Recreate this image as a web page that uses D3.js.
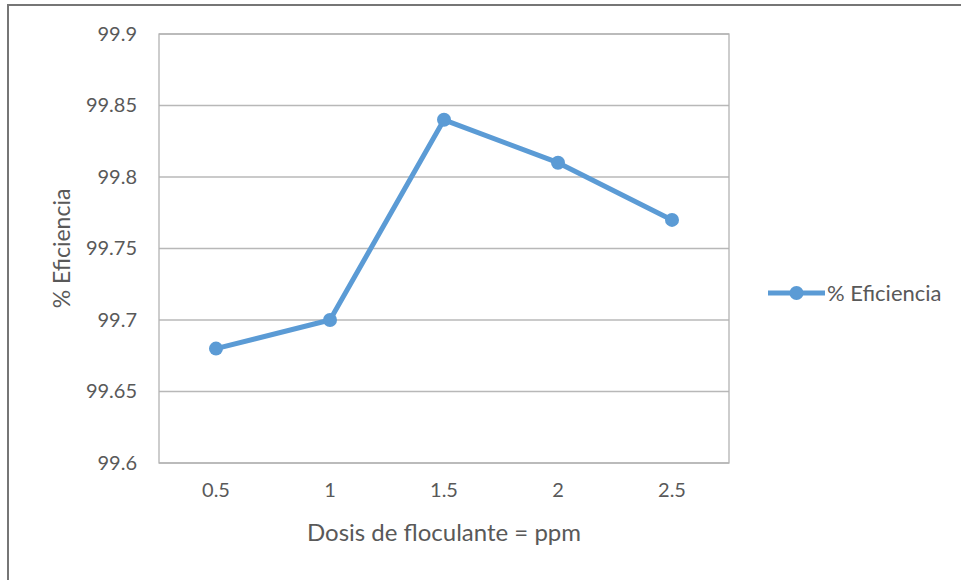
<!DOCTYPE html>
<html>
  <head>
    <meta charset="utf-8" />
    <title>% Eficiencia</title>
    <style>
      body {
        margin: 0;
        background: #fff;
        font-family: 'Lato', sans-serif;
      }
      text {
        fill: #595959;
      }
    </style>
    <script src="https://d3js.org/d3.v7.min.js"></script>
  </head>
  <body>
    <div id="chart"></div>
    <script>
      const doses = ["0.5", "1", "1.5", "2", "2.5"];
      const efficiency = [99.68, 99.7, 99.84, 99.81, 99.77];
      const yTicks = [99.6, 99.65, 99.7, 99.75, 99.8, 99.85, 99.9];
      const seriesName = "% Eficiencia";

      const W = 961, H = 580;
      const margin = { top: 34, right: 232, bottom: 117, left: 159 };
      const width = W - margin.left - margin.right;
      const height = H - margin.top - margin.bottom;

      const svg = d3.select("#chart")
        .append("svg")
        .attr("width", W)
        .attr("height", H);

      // outer chart frame (cut off at right and bottom)
      svg.append("rect")
        .attr("x", 8)
        .attr("y", 5)
        .attr("width", W + 10)
        .attr("height", H + 10)
        .attr("fill", "none")
        .attr("stroke", "#767676")
        .attr("stroke-width", 2);

      const g = svg.append("g")
        .attr("transform", `translate(${margin.left},${margin.top})`);

      const x = d3.scaleBand().domain(doses).range([0, width]);
      const y = d3.scaleLinear().domain([99.6, 99.9]).range([height, 0]);

      // gridlines
      g.append("g")
        .selectAll("line")
        .data(yTicks)
        .join("line")
        .attr("x1", 0)
        .attr("x2", width)
        .attr("y1", d => y(d))
        .attr("y2", d => y(d))
        .attr("stroke", "#b8b8b8")
        .attr("stroke-width", 1.3);

      // plot frame
      g.append("rect")
        .attr("width", width)
        .attr("height", height)
        .attr("fill", "none")
        .attr("stroke", "#b3b3b3")
        .attr("stroke-width", 1.3);

      // y tick labels
      const yAxis = g.append("g")
        .call(d3.axisLeft(y).tickValues(yTicks).tickSize(0).tickPadding(22).tickFormat(d => d3.format("")(+d.toFixed(2))));
      yAxis.select(".domain").remove();
      yAxis.selectAll("text")
        .style("font-size", "20px")
        .style("font-family", "'Lato', sans-serif")
        .attr("fill", "#595959");

      // x tick labels
      const xAxis = g.append("g")
        .attr("transform", `translate(0,${height})`)
        .call(d3.axisBottom(x).tickSize(0).tickPadding(20));
      xAxis.select(".domain").remove();
      xAxis.selectAll("text")
        .style("font-size", "20px")
        .style("font-family", "'Lato', sans-serif")
        .attr("fill", "#595959");

      // axis titles
      g.append("text")
        .attr("x", width / 2)
        .attr("y", height + 78)
        .attr("text-anchor", "middle")
        .style("font-size", "24px")
        .text("Dosis de floculante = ppm");

      g.append("text")
        .attr("transform", "rotate(-90)")
        .attr("x", -height / 2)
        .attr("y", -89)
        .attr("text-anchor", "middle")
        .style("font-size", "23px")
        .text("% Eficiencia");

      // line + markers
      const data = doses.map((d, i) => ({ dose: d, value: efficiency[i] }));
      const cx = d => x(d.dose) + x.bandwidth() / 2;

      g.append("path")
        .datum(data)
        .attr("fill", "none")
        .attr("stroke", "#5b9bd5")
        .attr("stroke-width", 5)
        .attr("stroke-linejoin", "round")
        .attr("d", d3.line().x(cx).y(d => y(d.value)));

      g.selectAll("circle.pt")
        .data(data)
        .join("circle")
        .attr("class", "pt")
        .attr("cx", cx)
        .attr("cy", d => y(d.value))
        .attr("r", 7)
        .attr("fill", "#5b9bd5");

      // legend
      const lg = svg.append("g").attr("transform", "translate(768,293)");
      lg.append("line")
        .attr("x1", 0).attr("x2", 57)
        .attr("y1", 0).attr("y2", 0)
        .attr("stroke", "#5b9bd5")
        .attr("stroke-width", 5);
      lg.append("circle")
        .attr("cx", 28.5).attr("cy", 0).attr("r", 7)
        .attr("fill", "#5b9bd5");
      lg.append("text")
        .attr("x", 59)
        .attr("y", 0)
        .attr("dy", "0.35em")
        .style("font-size", "22px")
        .text(seriesName);
    </script>
  </body>
</html>
